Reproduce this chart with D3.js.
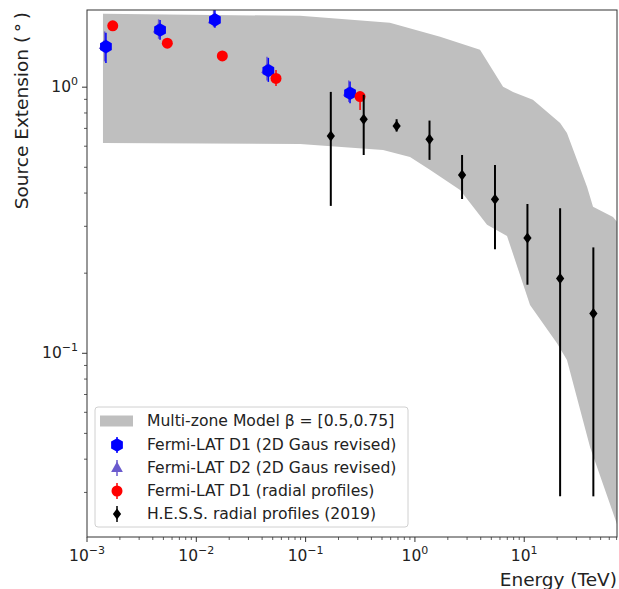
<!DOCTYPE html>
<html>
<head>
<meta charset="utf-8">
<script src="https://cdn.jsdelivr.net/npm/d3@7"></script>
<style>
  html, body { margin: 0; padding: 0; background: #fff; }
  text { font-family: "DejaVu Sans", sans-serif; fill: #222; }
</style>
</head>
<body>
<svg id="chart" width="619" height="589"></svg>
<script>
// Multi-zone model band: upper and lower edges (energy in TeV, extension in deg)
const bandUpperE = [0.0014, 0.089, 0.59, 1.70, 3.94, 6.40, 7.90, 12.0, 21.3, 24.6, 37.6, 42.6, 64.9, 70.6];
const bandUpperV = [1.887, 1.854, 1.745, 1.546, 1.381, 1.003, 0.960, 0.896, 0.734, 0.673, 0.422, 0.355, 0.325, 0.312];
const bandLowerE = [0.0014, 0.089, 0.511, 0.902, 1.37, 2.59, 4.57, 6.96, 11.3, 19.95, 24.6, 40.0, 70.6];
const bandLowerV = [0.617, 0.612, 0.581, 0.547, 0.489, 0.411, 0.304, 0.276, 0.152, 0.109, 0.0944, 0.0444, 0.0228];

// Fermi-LAT D1, 2D Gaussian (revised)
const d1E  = [0.00149, 0.00466, 0.0148, 0.0456, 0.255];
const d1V  = [1.42, 1.64, 1.79, 1.155, 0.949];
const d1Lo = [1.234, 1.506, 1.671, 1.047, 0.87];
const d1Hi = [1.60, 1.79, 1.97, 1.289, 1.05];

// Fermi-LAT D2, 2D Gaussian (revised)
const d2E  = [0.00145, 0.00452, 0.0144, 0.0443, 0.248];
const d2V  = [1.44, 1.66, 1.80, 1.17, 0.96];
const d2Lo = [1.25, 1.52, 1.68, 1.06, 0.88];
const d2Hi = [1.62, 1.80, 1.98, 1.30, 1.06];

// Fermi-LAT D1, radial profiles
const radE  = [0.00172, 0.00543, 0.0173, 0.0536, 0.315];
const radV  = [1.70, 1.464, 1.311, 1.079, 0.922];
const radLo = [1.64, 1.42, 1.27, 1.01, 0.82];
const radHi = [1.76, 1.51, 1.35, 1.16, 0.96];

// H.E.S.S. radial profiles (2019)
const hessE  = [0.17, 0.34, 0.68, 1.36, 2.7, 5.4, 10.7, 21.3, 42.9];
const hessV  = [0.656, 0.758, 0.715, 0.637, 0.468, 0.379, 0.271, 0.191, 0.141];
const hessLo = [0.358, 0.556, 0.681, 0.533, 0.380, 0.246, 0.181, 0.029, 0.029];
const hessHi = [0.960, 0.936, 0.758, 0.749, 0.556, 0.510, 0.364, 0.351, 0.250];

const xTickExps = [-3, -2, -1, 0, 1];
const yTickExps = [-1, 0];

const legendLabels = [
  "Multi-zone Model \u03B2 = [0.5,0.75]",
  "Fermi-LAT D1 (2D Gaus revised)",
  "Fermi-LAT D2 (2D Gaus revised)",
  "Fermi-LAT D1 (radial profiles)",
  "H.E.S.S. radial profiles (2019)"
];

const margin = {left: 87, top: 10, right: 2, bottom: 52};
const W = 619, H = 589;
const svg = d3.select("#chart");
const pw = W - margin.left - margin.right;
const ph = H - margin.top - margin.bottom;

const x = d3.scaleLog().domain([1e-3, 70.6]).range([margin.left, margin.left + pw]);
const y = d3.scaleLog().domain([0.0204, 1.95]).range([margin.top + ph, margin.top]);

svg.append("defs").append("clipPath").attr("id", "clip")
  .append("rect").attr("x", margin.left).attr("y", margin.top).attr("width", pw).attr("height", ph);

const plot = svg.append("g").attr("clip-path", "url(#clip)");

// model band
const bandPts = bandUpperE.map((e, i) => [x(e), y(bandUpperV[i])])
  .concat(bandLowerE.map((e, i) => [x(e), y(bandLowerV[i])]).reverse());
plot.append("path")
  .attr("d", d3.line()(bandPts) + "Z")
  .attr("fill", "#bfbfbf").attr("stroke", "none");

// marker shapes
function hexPath(r) {
  const pts = d3.range(6).map(k => {
    const a = -Math.PI / 2 + k * Math.PI / 3;
    return [r * Math.cos(a), r * Math.sin(a)];
  });
  return d3.line()(pts) + "Z";
}
function triPath(r) {
  return d3.line()([[0, -r], [r * 0.9, r * 0.6], [-r * 0.9, r * 0.6]]) + "Z";
}
function diaPath(r) {
  return d3.line()([[0, -r], [r * 0.75, 0], [0, r], [-r * 0.75, 0]]) + "Z";
}

function series(E, V, Lo, Hi, color, barColor, barWidth, shape) {
  const g = plot.append("g");
  g.selectAll("line").data(E).join("line")
    .attr("x1", d => x(d)).attr("x2", d => x(d))
    .attr("y1", (d, i) => y(Lo[i])).attr("y2", (d, i) => y(Hi[i]))
    .attr("stroke", barColor).attr("stroke-width", barWidth);
  g.selectAll("path").data(E).join("path")
    .attr("d", shape)
    .attr("transform", (d, i) => `translate(${x(d)},${y(V[i])})`)
    .attr("fill", color);
}

series(d2E, d2V, d2Lo, d2Hi, "#6a5acd", "#6a5acd", 1.5, triPath(6.5));
series(d1E, d1V, d1Lo, d1Hi, "#0000ff", "#0000ff", 1.5, hexPath(6.8));
series(radE, radV, radLo, radHi, "#ff0000", "#ff0000", 1.5, d3.symbol().type(d3.symbolCircle).size(Math.PI * 5.5 * 5.5)());
series(hessE, hessV, hessLo, hessHi, "#000", "#000", 2, diaPath(5.5));

// axes frame
svg.append("rect").attr("x", margin.left).attr("y", margin.top)
  .attr("width", pw).attr("height", ph)
  .attr("fill", "none").attr("stroke", "#333").attr("stroke-width", 1);

// x ticks
const xMinor = [];
for (let e = -3; e <= 1; e++) for (let m = 2; m <= 9; m++) {
  const v = m * Math.pow(10, e);
  if (v <= 70.6) xMinor.push(v);
}
const xAxisG = svg.append("g");
xAxisG.selectAll("line.minor").data(xMinor).join("line")
  .attr("x1", d => x(d)).attr("x2", d => x(d))
  .attr("y1", margin.top + ph).attr("y2", margin.top + ph + 3)
  .attr("stroke", "#333").attr("stroke-width", 0.8);
xAxisG.selectAll("line.major").data(xTickExps).join("line")
  .attr("x1", d => x(Math.pow(10, d))).attr("x2", d => x(Math.pow(10, d)))
  .attr("y1", margin.top + ph).attr("y2", margin.top + ph + 5)
  .attr("stroke", "#333").attr("stroke-width", 1);
const xl = xAxisG.selectAll("text").data(xTickExps).join("text")
  .attr("x", d => x(Math.pow(10, d)))
  .attr("y", margin.top + ph + 24)
  .attr("text-anchor", "middle")
  .attr("font-size", 15.5);
xl.append("tspan").text("10");
xl.append("tspan").attr("dy", -7).attr("font-size", 11)
  .text(d => d < 0 ? "\u2212" + Math.abs(d) : String(d));

// y ticks
const yMinor = [];
for (let e = -2; e <= 0; e++) for (let m = 2; m <= 9; m++) {
  const v = m * Math.pow(10, e);
  if (v >= 0.0204 && v <= 1.95) yMinor.push(v);
}
const yAxisG = svg.append("g");
yAxisG.selectAll("line.minor").data(yMinor).join("line")
  .attr("y1", d => y(d)).attr("y2", d => y(d))
  .attr("x1", margin.left).attr("x2", margin.left - 3)
  .attr("stroke", "#333").attr("stroke-width", 0.8);
yAxisG.selectAll("line.major").data(yTickExps).join("line")
  .attr("y1", d => y(Math.pow(10, d))).attr("y2", d => y(Math.pow(10, d)))
  .attr("x1", margin.left).attr("x2", margin.left - 5)
  .attr("stroke", "#333").attr("stroke-width", 1);
const yl = yAxisG.selectAll("text").data(yTickExps).join("text")
  .attr("x", margin.left - 9)
  .attr("y", d => y(Math.pow(10, d)) + 5)
  .attr("text-anchor", "end")
  .attr("font-size", 15.5);
yl.append("tspan").text("10");
yl.append("tspan").attr("dy", -7).attr("font-size", 11)
  .text(d => d < 0 ? "\u2212" + Math.abs(d) : String(d));

// axis titles
svg.append("text").attr("x", margin.left + pw).attr("y", 586)
  .attr("text-anchor", "end").attr("font-size", 18.5).text("Energy (TeV)");
svg.append("text")
  .attr("transform", `translate(28,${margin.top + 2}) rotate(-90)`)
  .attr("text-anchor", "end").attr("font-size", 18.5)
  .text("Source Extension (\u2009\u00B0\u2009)");

// legend
const lg = svg.append("g");
lg.append("rect").attr("x", 95).attr("y", 407).attr("width", 313).attr("height", 120)
  .attr("rx", 3).attr("fill", "#fff").attr("fill-opacity", 0.85)
  .attr("stroke", "#d0d0d0").attr("stroke-width", 1);
const rowY = [421, 445, 468, 491, 514];
lg.append("rect").attr("x", 100).attr("y", rowY[0] - 5.5).attr("width", 33).attr("height", 11)
  .attr("fill", "#bfbfbf");
const legMarks = [
  {shape: hexPath(6.8), color: "#0000ff"},
  {shape: triPath(6.5), color: "#6a5acd"},
  {shape: d3.symbol().type(d3.symbolCircle).size(Math.PI * 5.5 * 5.5)(), color: "#ff0000"},
  {shape: diaPath(5.5), color: "#000"}
];
legMarks.forEach((m, i) => {
  const cy = rowY[i + 1];
  lg.append("line").attr("x1", 117).attr("x2", 117).attr("y1", cy - 8).attr("y2", cy + 8)
    .attr("stroke", m.color).attr("stroke-width", 1.5);
  lg.append("path").attr("d", m.shape).attr("transform", `translate(117,${cy})`).attr("fill", m.color);
});
lg.selectAll("text").data(legendLabels).join("text")
  .attr("x", 147).attr("y", (d, i) => rowY[i] + 5)
  .attr("font-size", 15.6).text(d => d);
</script>
</body>
</html>
